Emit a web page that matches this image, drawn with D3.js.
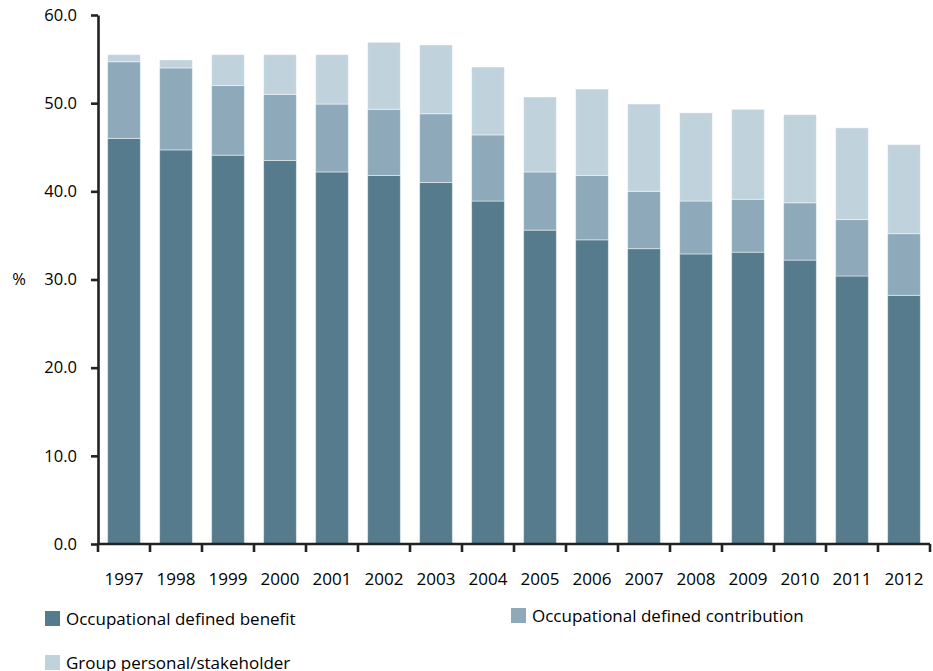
<!DOCTYPE html>
<meta charset="utf-8">
<head>
<script src="https://d3js.org/d3.v7.min.js"></script>
<style>
  body { margin: 0; background: #fff; }
  svg text { font-family: "Open Sans", sans-serif; fill: #000; }
  .axis path, .axis line { stroke: #222; stroke-width: 2.6px; }
</style>
</head>
<body>
<div id="chart"></div>
<script>
// data
var years = ["1997","1998","1999","2000","2001","2002","2003","2004","2005","2006","2007","2008","2009","2010","2011","2012"];
var definedBenefit = [46.0, 44.7, 44.1, 43.5, 42.2, 41.8, 41.0, 38.9, 35.6, 34.5, 33.5, 32.9, 33.1, 32.2, 30.4, 28.2];
var definedContribution = [8.7, 9.3, 7.9, 7.5, 7.7, 7.5, 7.8, 7.5, 6.6, 7.3, 6.5, 6.0, 6.0, 6.5, 6.4, 7.0];
var groupPersonal = [0.8, 0.9, 3.5, 4.5, 5.6, 7.6, 7.8, 7.7, 8.5, 9.8, 9.9, 10.0, 10.2, 10.0, 10.4, 10.1];
var yTicks = [0, 10, 20, 30, 40, 50, 60];
var seriesNames = ["Occupational defined benefit", "Occupational defined contribution", "Group personal/stakeholder"];
var seriesColors = ["#567b8d", "#8eaaba", "#c0d2dc"];

var width = 933, height = 671;
var x0 = 98, x1 = 930, yBottom = 544, yTop = 15;

var svg = d3.select("#chart").append("svg")
    .attr("width", width)
    .attr("height", height);

var x = d3.scaleBand()
    .domain(years)
    .range([x0, x1])
    .paddingInner(0.37)
    .paddingOuter(0.185);

var y = d3.scaleLinear()
    .domain([0, 60])
    .range([yBottom, yTop]);

// stack the three series
var rows = years.map(function(yr, i) {
  return {year: yr, db: definedBenefit[i], dc: definedContribution[i], gp: groupPersonal[i]};
});
var stack = d3.stack().keys(["db", "dc", "gp"]);
var layers = stack(rows);

svg.append("g").selectAll("g")
  .data(layers)
  .enter().append("g")
    .attr("fill", function(d, i) { return seriesColors[i]; })
  .selectAll("rect")
  .data(function(d) { return d; })
  .enter().append("rect")
    .attr("x", function(d) { return x(d.data.year); })
    .attr("width", x.bandwidth())
    .attr("y", function(d) { return y(d[1]); })
    .attr("height", function(d) { return y(d[0]) - y(d[1]); })
    .attr("stroke", "rgba(255,255,255,0.45)")
    .attr("stroke-width", 1);

// y axis
var yAxis = svg.append("g")
    .attr("class", "axis")
    .attr("transform", "translate(" + x0 + ",0)")
    .call(d3.axisLeft(y).tickValues(yTicks).tickFormat(d3.format(".1f")).tickSize(7).tickPadding(14).tickSizeOuter(0));
yAxis.selectAll("text").style("font-size", "16.5px").attr("font-family", "Open Sans").attr("fill", "#000");

// x axis: ticks at band boundaries
var step = x.step();
var bounds = d3.range(years.length + 1).map(function(i) { return x0 + i * step; });
var xAxis = svg.append("g").attr("class", "axis");
xAxis.append("line")
    .attr("x1", x0 - 1).attr("x2", x1)
    .attr("y1", yBottom).attr("y2", yBottom);
xAxis.selectAll("line.tk")
  .data(bounds)
  .enter().append("line")
    .attr("class", "tk")
    .attr("x1", function(d) { return d; }).attr("x2", function(d) { return d; })
    .attr("y1", yBottom).attr("y2", yBottom + 8);
svg.append("g").selectAll("text")
  .data(years)
  .enter().append("text")
    .attr("x", function(d) { return x(d) + x.bandwidth() / 2; })
    .attr("y", yBottom + 35)
    .attr("dy", "0.35em")
    .attr("text-anchor", "middle")
    .style("font-size", "17px")
    .text(function(d) { return d; });

// % label
svg.append("text")
    .attr("x", 19)
    .attr("y", y(30))
    .attr("dy", "0.35em")
    .attr("text-anchor", "middle")
    .style("font-size", "16.5px")
    .text("%");

// legend
var legendPos = [[45, 611], [511, 608], [45, 655]];
var legend = svg.append("g").selectAll("g")
  .data(seriesNames)
  .enter().append("g")
    .attr("transform", function(d, i) { return "translate(" + legendPos[i][0] + "," + legendPos[i][1] + ")"; });
legend.append("rect")
    .attr("width", 15).attr("height", 15)
    .attr("fill", function(d, i) { return seriesColors[i]; });
legend.append("text")
    .attr("x", 21).attr("y", 8)
    .attr("dy", "0.35em")
    .style("font-size", "17px")
    .text(function(d) { return d; });
</script>
</body>
</html>
